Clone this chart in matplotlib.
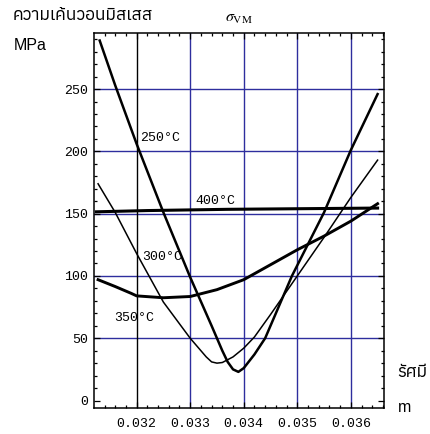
import matplotlib
matplotlib.use("Agg")
import matplotlib.pyplot as plt
from matplotlib import font_manager, ft2font
from matplotlib.ticker import MultipleLocator

# radius (m) and von Mises stress (MPa)
x_250 = [0.03131, 0.0316, 0.0320, 0.0325, 0.0330, 0.0334, 0.0336, 0.0337, 0.0338, 0.0339,
         0.0340, 0.0342, 0.0344, 0.0349, 0.0355, 0.0360, 0.0365]
y_250 = [289, 253, 206, 151, 99, 60, 40, 31, 25, 23, 26, 37, 50, 100, 151, 201, 246]

x_300 = [0.03128, 0.0316, 0.0320, 0.0325, 0.0330, 0.0333, 0.0334, 0.0335, 0.0336, 0.0338,
         0.0340, 0.0342, 0.0345, 0.0350, 0.0355, 0.0360, 0.0365]
y_300 = [174, 151, 118, 79, 50, 35, 31, 30, 30.5, 35, 42, 51, 69, 100, 131, 163, 193]

x_350 = [0.03128, 0.0316, 0.0319, 0.0320, 0.0325, 0.0330, 0.0335, 0.0340, 0.0345, 0.0350,
         0.0355, 0.0360, 0.0365]
y_350 = [97, 91.5, 86, 84, 82.5, 83.5, 89, 97, 109, 121, 132, 144, 158]

x_400 = [0.03125, 0.0322, 0.0337, 0.0365]
y_400 = [151.5, 152.5, 153.5, 154.5]

x_ticks = [0.032, 0.033, 0.034, 0.035, 0.036]
y_ticks = [0, 50, 100, 150, 200, 250]

# find something installed that can draw Thai
thai = []
for f in font_manager.fontManager.ttflist:
    try:
        if 0x0E04 in ft2font.FT2Font(f.fname).get_charmap():
            thai.append(f.name)
    except Exception:
        pass
thai_family = sorted(set(thai))[:1] + ['DejaVu Sans']
mono = 'Liberation Mono'
grid_blue = '#2e2e9e'

fig = plt.figure(figsize=(4.31, 4.34), dpi=100)
ax = fig.add_axes([0.218, 0.0588, 0.672, 0.865])

for xv in x_ticks[1:]:
    ax.axvline(xv, color=grid_blue, lw=1.0, zorder=1)
for yv in y_ticks[1:]:
    ax.axhline(yv, color=grid_blue, lw=1.0, zorder=1)
ax.axvline(x_ticks[0], color='black', lw=1.0, zorder=1)

ax.plot(x_250, y_250, color='black', lw=1.8, zorder=3)
ax.plot(x_300, y_300, color='black', lw=1.1, zorder=3)
ax.plot(x_350, y_350, color='black', lw=2.1, zorder=3)
ax.plot(x_400, y_400, color='black', lw=2.2, zorder=3)

lab = dict(fontfamily=mono, fontsize=9.5, va='center', ha='left', zorder=2)
ax.text(0.03207, 211, '250°C', **lab)
ax.text(0.03309, 160.5, '400°C', **lab)
ax.text(0.03211, 115, '300°C', **lab)
ax.text(0.03158, 66, '350°C', **lab)

ax.set_xlim(0.031203, 0.036612)
ax.set_ylim(-6.4, 295)
ax.set_xticks(x_ticks)
ax.set_xticklabels(['%.3f' % v for v in x_ticks])
ax.set_yticks(y_ticks)
ax.set_yticklabels([str(v) for v in y_ticks])
ax.xaxis.set_minor_locator(MultipleLocator(0.0002))
ax.yaxis.set_minor_locator(MultipleLocator(10))
ax.tick_params(which='both', direction='in', top=True, right=True, width=0.9, colors='black')
ax.tick_params(which='major', length=4.5)
ax.tick_params(which='minor', length=2.5)
ax.tick_params(axis='x', pad=7)
ax.tick_params(axis='y', pad=4)
for t in ax.get_xticklabels() + ax.get_yticklabels():
    t.set_fontfamily(mono)
    t.set_fontsize(9.5)
for s in ax.spines.values():
    s.set_linewidth(1.1)

fig.text(239 / 431, 1 - 19 / 434, r'$\sigma_{\mathrm{VM}}$', fontsize=11.5,
         ha='center', va='center', math_fontfamily='stix')
fig.text(13 / 431, 1 - 15 / 434, 'ความเค้นวอนมิสเสส', family=thai_family, fontsize=12.5,
         ha='left', va='center')
fig.text(14 / 431, 1 - 45 / 434, 'MPa', family=['Liberation Sans'], fontsize=11.5,
         ha='left', va='center')
fig.text(397 / 431, 1 - 372 / 434, 'รัศมี', family=thai_family, fontsize=12.5,
         ha='left', va='center')
fig.text(398 / 431, 1 - 407 / 434, 'm', family=['Liberation Sans'], fontsize=11.5,
         ha='left', va='center')

fig.savefig('out.png', dpi=100)
